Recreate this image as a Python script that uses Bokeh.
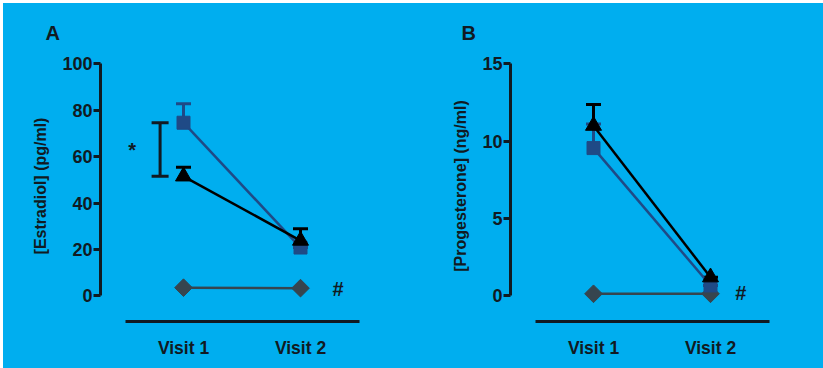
from bokeh.plotting import figure
from bokeh.models import ColumnDataSource, Whisker, TeeHead, Label, FixedTicker, Range1d
from bokeh.layouts import row
from bokeh.embed import file_html
from bokeh.resources import INLINE

# Shared x categories
visit_x = [1, 2]
visit_labels = ["Visit 1", "Visit 2"]

# Panel A: estradiol (pg/ml), mean and upper SEM
e2_square = [74.6, 20.8]
e2_square_err = [8.2, 0.0]
e2_triangle = [51.5, 23.8]
e2_triangle_err = [3.9, 5.1]
e2_diamond = [3.5, 3.3]
e2_ticks = [0, 20, 40, 60, 80, 100]

# Panel B: progesterone (ng/ml), mean and upper SEM
p4_square = [9.55, 0.67]
p4_square_err = [1.55, 0.0]
p4_triangle = [11.0, 1.2]
p4_triangle_err = [1.37, 0.0]
p4_diamond = [0.13, 0.13]
p4_ticks = [0, 5, 10, 15]

BG = "#00AEEF"
INK = "#111a22"
SQUARE_C = "#1f4a86"
DIAMOND_C = "#36454f"
FONT = "Liberation Sans"

PX_PER_UNIT_X = 117.0
AXIS_H = 232.0


def panel(letter, letter_shift, ylabel, ymax, ticks, square, square_err,
          triangle, triangle_err, diamond, hash_pos, star=None):
    frame_w = 300
    x0 = 1 - 83 / PX_PER_UNIT_X
    x1 = x0 + frame_w / PX_PER_UNIT_X
    y0 = -25.7 * ymax / AXIS_H
    y1 = ymax + 13.3 * ymax / AXIS_H

    p = figure(width=410, height=365, output_backend="svg", toolbar_location=None,
               x_range=Range1d(x0, x1), y_range=Range1d(y0, y1),
               min_border_left=97, min_border_right=13,
               min_border_top=47, min_border_bottom=47)
    p.background_fill_color = None
    p.border_fill_color = None
    p.outline_line_color = None
    p.grid.visible = False

    # Panel letter as the figure title, pulled left of the frame
    p.title.text = letter
    p.title.align = "left"
    p.title.offset = letter_shift
    p.title.standoff = 14
    p.title.text_font = FONT
    p.title.text_font_style = "bold"
    p.title.text_font_size = "20px"
    p.title.text_color = INK

    ya = p.yaxis[0]
    ya.bounds = (0, ymax)
    ya.ticker = FixedTicker(ticks=ticks)
    ya.minor_tick_line_color = None
    ya.major_tick_out = 7
    ya.major_tick_in = 0
    ya.major_tick_line_width = 3
    ya.major_tick_line_color = INK
    ya.axis_line_width = 3
    ya.axis_line_color = INK
    ya.major_label_text_font = FONT
    ya.major_label_text_font_style = "bold"
    ya.major_label_text_font_size = "18px"
    ya.major_label_text_color = INK
    ya.major_label_standoff = 1
    ya.axis_label = ylabel
    ya.axis_label_text_font = FONT
    ya.axis_label_text_font_style = "bold"
    ya.axis_label_text_font_size = "16px"
    ya.axis_label_text_color = INK
    ya.axis_label_standoff = 10

    xa = p.xaxis[0]
    xa.bounds = (0.5, 2.5)
    xa.ticker = FixedTicker(ticks=visit_x)
    xa.major_label_overrides = {x: lab for x, lab in zip(visit_x, visit_labels)}
    xa.major_tick_line_color = None
    xa.minor_tick_line_color = None
    xa.axis_line_width = 3
    xa.axis_line_color = INK
    xa.major_label_text_font = FONT
    xa.major_label_text_font_style = "bold"
    xa.major_label_text_font_size = "17.5px"
    xa.major_label_text_color = INK
    xa.major_label_standoff = 10

    # Diamond series
    p.line(visit_x, diamond, line_color=DIAMOND_C, line_width=2.5)
    p.scatter(visit_x, diamond, marker="square", angle=0.785398, size=12.5,
              fill_color=DIAMOND_C, line_color=DIAMOND_C)

    # Square series with upper error bars
    sq_src = ColumnDataSource(dict(x=visit_x, y=square,
                                   up=[m + e for m, e in zip(square, square_err)]))
    p.add_layout(Whisker(source=sq_src, base="x", lower="y", upper="up",
                         line_color=SQUARE_C, line_width=3,
                         upper_head=TeeHead(size=15, line_color=SQUARE_C, line_width=3),
                         lower_head=None))
    p.line(visit_x, square, line_color=SQUARE_C, line_width=2.5)
    p.scatter(visit_x, square, marker="square", size=13,
              fill_color=SQUARE_C, line_color=SQUARE_C)

    # Triangle series with upper error bars
    tr_src = ColumnDataSource(dict(x=visit_x, y=triangle,
                                   up=[m + e for m, e in zip(triangle, triangle_err)]))
    p.add_layout(Whisker(source=tr_src, base="x", lower="y", upper="up",
                         line_color="black", line_width=3,
                         upper_head=TeeHead(size=15, line_color="black", line_width=3),
                         lower_head=None))
    p.line(visit_x, triangle, line_color="black", line_width=2.5)
    p.scatter(visit_x, triangle, marker="triangle", size=16,
              fill_color="black", line_color="black")

    # Significance bracket between the two visit-1 means
    if star is not None:
        sx, star_x = star
        sig_src = ColumnDataSource(dict(x=[sx], lo=[triangle[0]], hi=[square[0]]))
        p.add_layout(Whisker(source=sig_src, base="x", lower="lo", upper="hi",
                             line_color=INK, line_width=3,
                             upper_head=TeeHead(size=17, line_color=INK, line_width=3),
                             lower_head=TeeHead(size=17, line_color=INK, line_width=3)))
        p.add_layout(Label(x=star_x, y=(triangle[0] + square[0]) / 2, text="*",
                           text_font=FONT, text_font_style="bold", text_font_size="20px",
                           text_color=INK, text_align="center", text_baseline="middle"))

    p.add_layout(Label(x=hash_pos[0], y=hash_pos[1], text="#",
                       text_font=FONT, text_font_style="bold", text_font_size="20px",
                       text_color=INK, text_align="center", text_baseline="middle"))
    return p


pa = panel("A", -55, "[Estradiol] (pg/ml)", 100, e2_ticks,
           e2_square, e2_square_err, e2_triangle, e2_triangle_err, e2_diamond,
           hash_pos=(2.32, 3.1), star=(0.80, 0.56))
pb = panel("B", -49, "[Progesterone] (ng/ml)", 15, p4_ticks,
           p4_square, p4_square_err, p4_triangle, p4_triangle_err, p4_diamond,
           hash_pos=(2.26, 0.17))

layout = row(pa, pb, margin=(3, 0, 0, 3), styles={"background-color": BG})
open("out.html", "w").write(file_html(layout, INLINE))
